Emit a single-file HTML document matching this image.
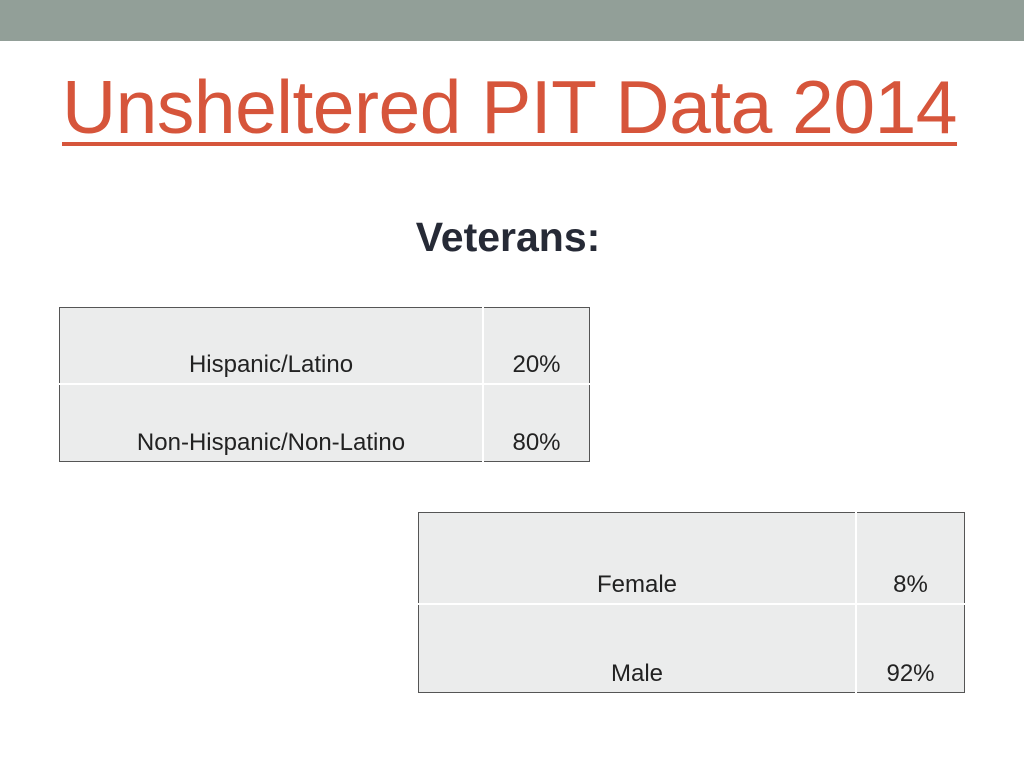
<!DOCTYPE html>
<html><head><meta charset="utf-8"><style>
body{margin:0;width:1024px;height:768px;background:#fff;position:relative;overflow:hidden;font-family:"Liberation Sans",sans-serif}
.bar{position:absolute;left:0;top:0;width:1024px;height:41px;background:#929f98}
.title{position:absolute;left:62px;top:64px;font-size:75px;color:#d6553b;text-decoration:underline;text-decoration-thickness:4px;text-underline-offset:9px;white-space:nowrap;letter-spacing:-0.5px}
.sub{position:absolute;left:0;width:1016px;top:214px;text-align:center;font-size:41px;font-weight:bold;color:#262a36}
table{position:absolute;border-collapse:collapse;background:#ebecec;border:1.5px solid #555;font-size:24px;color:#222}
td{border:2px solid #fff;vertical-align:bottom;text-align:center;padding:0 0 4px 0}
table{border-style:solid}
</style></head><body>
<div class="bar"></div>
<div class="title">Unsheltered PIT Data 2014</div>
<div class="sub">Veterans:</div>
<table style="left:59px;top:307px;width:531px;height:155px">
<tr><td style="width:422px;height:71px;border-top:none;border-left:none">Hispanic/Latino</td><td style="border-top:none;border-right:none">20%</td></tr>
<tr><td style="border-bottom:none;border-left:none">Non-Hispanic/Non-Latino</td><td style="border-bottom:none;border-right:none">80%</td></tr>
</table>
<table style="left:418px;top:512px;width:547px;height:181px">
<tr><td style="width:436px;height:86px;border-top:none;border-left:none">Female</td><td style="border-top:none;border-right:none">8%</td></tr>
<tr><td style="border-bottom:none;border-left:none">Male</td><td style="border-bottom:none;border-right:none">92%</td></tr>
</table>
</body></html>
